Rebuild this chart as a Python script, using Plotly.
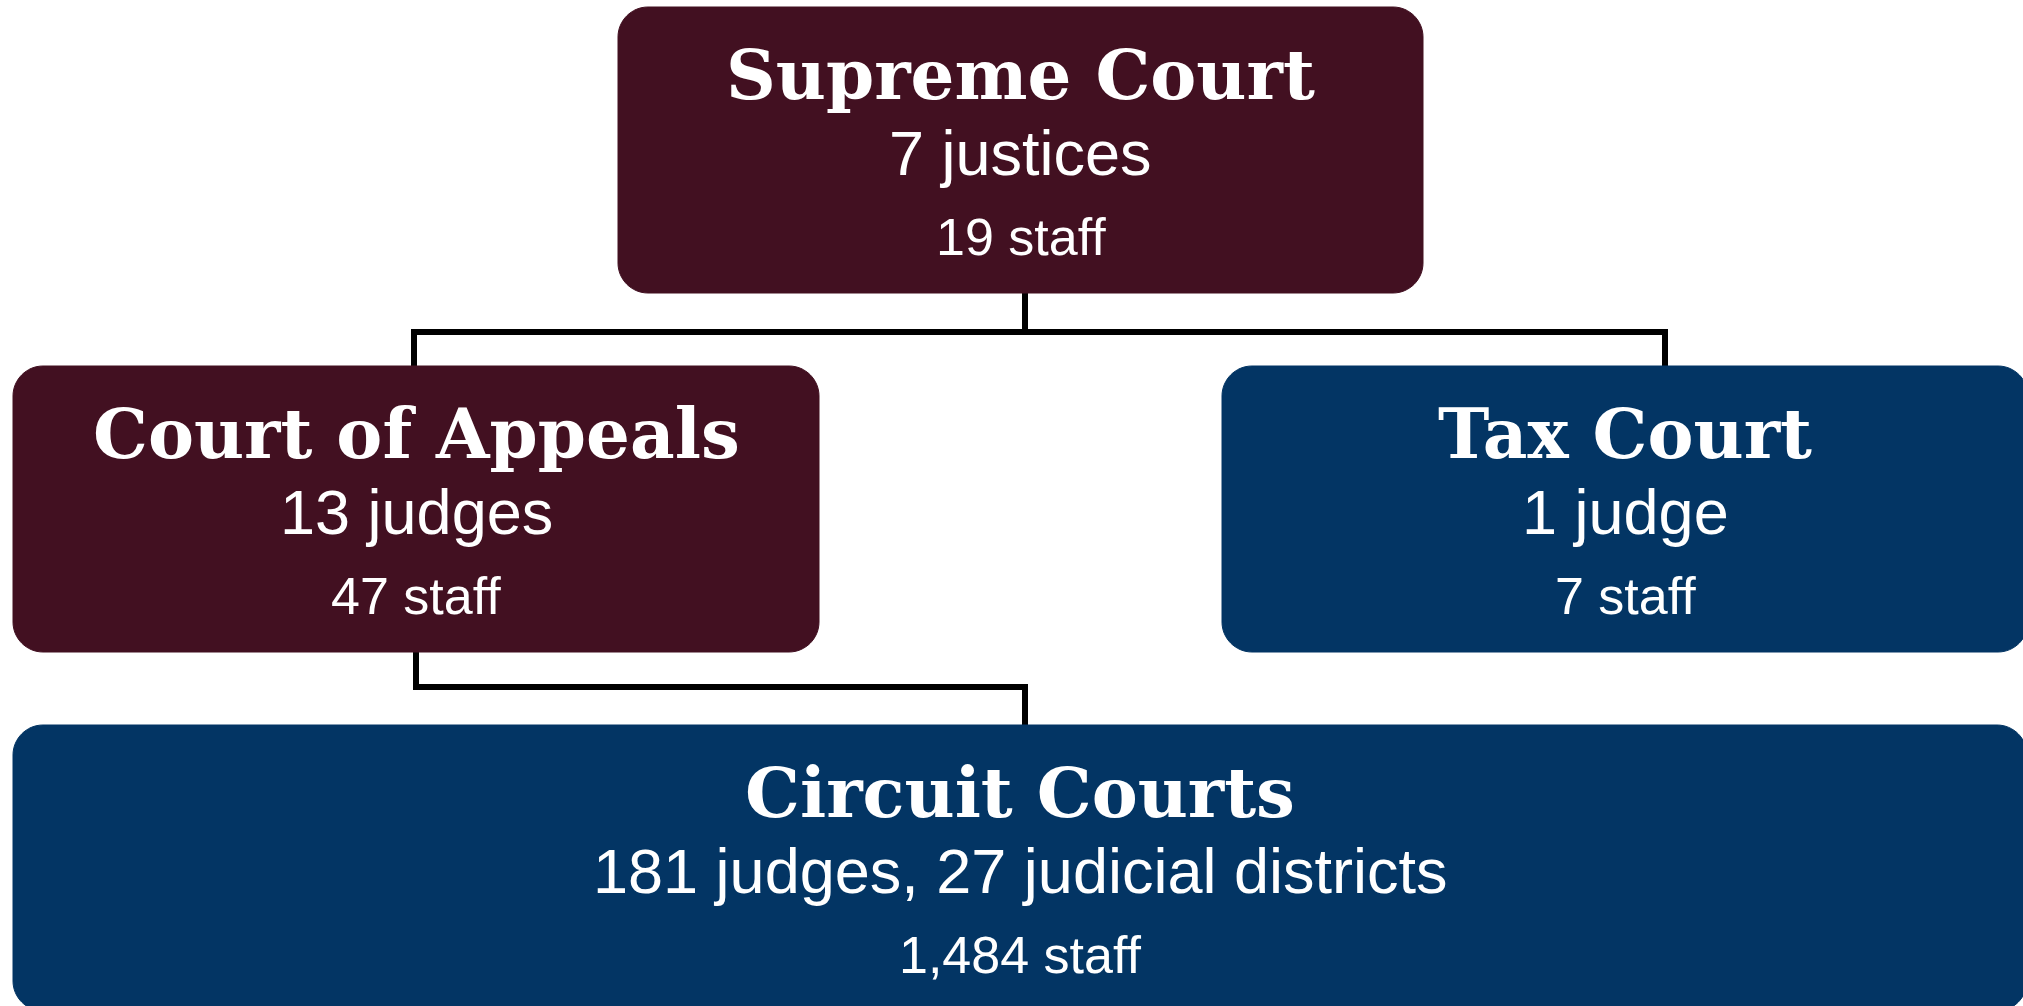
import plotly.graph_objects as go

# ---------------- data ----------------
courts = ["Supreme Court", "Court of Appeals", "Tax Court", "Circuit Courts"]
members = ["7 justices", "13 judges", "1 judge", "181 judges, 27 judicial districts"]
staff = ["19 staff", "47 staff", "7 staff", "1,484 staff"]
court_type = ["appellate", "appellate", "special", "trial"]
links = [("Supreme Court", "Court of Appeals"),
         ("Supreme Court", "Tax Court"),
         ("Court of Appeals", "Circuit Courts")]

# ---------------- layout / style (pixel canvas) ----------------
W, H = 2023, 1006
COLORS = {"appellate": "#421021", "special": "#033564", "trial": "#033564"}
BOX = {  # x0, y0, x1, y1
    "Supreme Court": (618, 7, 1423, 293),
    "Court of Appeals": (13, 366, 819, 652),
    "Tax Court": (1222, 366, 2028, 652),
    "Circuit Courts": (13, 725, 2027, 1011),
}
# connector geometry: parent -> (parent drop x, bus y), child -> drop x
PARENT_DROP = {"Supreme Court": (1025, 332), "Court of Appeals": (416, 687)}
CHILD_DROP = {"Court of Appeals": 414, "Tax Court": 1665, "Circuit Courts": 1025}
RADIUS = 30
TITLE_FONT = dict(family="DejaVu Serif", size=69, color="white", weight="bold")
SUB_FONT = dict(family="Liberation Sans, Arial", size=63, color="white")
STAFF_FONT = dict(family="Liberation Sans, Arial", size=52, color="white")


def rounded_rect(x0, y0, x1, y1, r):
    k = 0.45 * r  # cubic control offset approximating a circular arc
    return (f"M {x0+r},{y0} L {x1-r},{y0} C {x1-k},{y0} {x1},{y0+k} {x1},{y0+r} "
            f"L {x1},{y1-r} C {x1},{y1-k} {x1-k},{y1} {x1-r},{y1} L {x0+r},{y1} "
            f"C {x0+k},{y1} {x0},{y1-k} {x0},{y1-r} L {x0},{y0+r} "
            f"C {x0},{y0+k} {x0+k},{y0} {x0+r},{y0} Z")


fig = go.Figure()
shapes = []
annotations = []

# connectors
for parent, child in links:
    px, bus = PARENT_DROP[parent]
    cx = CHILD_DROP[child]
    py = BOX[parent][3]
    cy = BOX[child][1]
    shapes.append(dict(type="path", xref="x", yref="y",
                       path=f"M {px},{py} L {px},{bus} L {cx},{bus} L {cx},{cy}",
                       line=dict(color="black", width=6)))

# boxes + texts
for name, mem, st, kind in zip(courts, members, staff, court_type):
    x0, y0, x1, y1 = BOX[name]
    col = COLORS[kind]
    shapes.append(dict(type="path", xref="x", yref="y",
                       path=rounded_rect(x0, y0, x1, y1, RADIUS),
                       fillcolor=col, line=dict(color=col, width=1)))
    xc = (x0 + x1) / 2
    for txt, font, off in ((name, TITLE_FONT, 67), (mem, SUB_FONT, 146), (st, STAFF_FONT, 230)):
        annotations.append(dict(x=xc, y=y0 + off, xref="x", yref="y", text=txt,
                                showarrow=False, xanchor="center", yanchor="middle",
                                font=font))

fig.update_layout(
    width=W, height=H, autosize=False,
    margin=dict(l=0, r=0, t=0, b=0, pad=0),
    paper_bgcolor="white", plot_bgcolor="white",
    xaxis=dict(range=[0, W], visible=False, fixedrange=True),
    yaxis=dict(range=[H, 0], visible=False, fixedrange=True),
    shapes=shapes, annotations=annotations, showlegend=False,
)

fig.write_html("out.html", config={"displayModeBar": False},
               post_script="document.body.style.margin='0';document.body.style.overflow='hidden';")
